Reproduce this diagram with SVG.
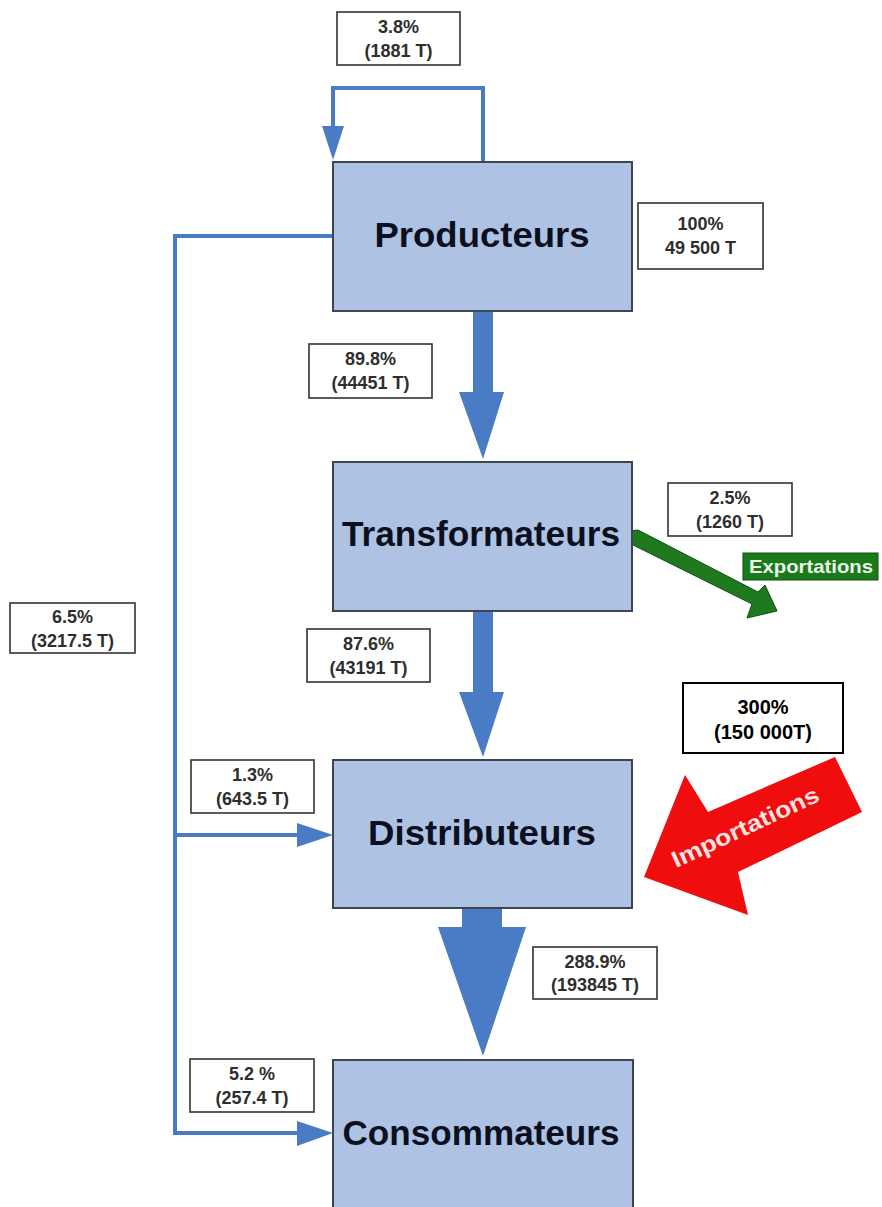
<svg xmlns="http://www.w3.org/2000/svg" width="882" height="1207" viewBox="0 0 882 1207">
<style>
.node{fill:#aec3e4;stroke:#3f4550;stroke-width:2}
.nt{font-family:"Liberation Sans",Arial,sans-serif;font-weight:bold;font-size:35px;fill:#0b0f1e;text-anchor:middle}
.lb{fill:#fff;stroke:#333;stroke-width:1.6}
.lt{font-family:"Liberation Sans",Arial,sans-serif;font-weight:bold;font-size:18px;fill:#2e2e2e;text-anchor:middle}
.ln{fill:none;stroke:#4a7cc6;stroke-width:4}
.ab{fill:#4a7cc6}
</style>
<rect width="882" height="1207" fill="#fff"/>
<g id="connectors">
  <polyline class="ln" points="483,162 483,88 333,88 333,128"/>
  <polygon class="ab" points="322,126 344,126 333,160"/>
  <polyline class="ln" points="333,236 175,236 175,1133 299,1133"/>
  <polygon class="ab" points="297,1121 333,1133 297,1146"/>
  <line class="ln" x1="175" y1="835" x2="299" y2="835"/>
  <polygon class="ab" points="297,823 333,835 297,847"/>
  <polygon class="ab" points="473,311 493,311 493,392 504,392 483,459 459,392 473,392"/>
  <polygon class="ab" points="473,611 493,611 493,692 504,692 483,757 459,692 473,692"/>
  <polygon class="ab" points="462,908 502,908 502,927 526,927 483,1056 438,927 462,927"/>
  <polygon fill="#1f7a1f" stroke="#105010" stroke-width="1" points="629,531 633,545 752,604 747,618 777,611 765,585 758,592 638,530"/>
  <polygon fill="#f00d0d" points="644,877 685,775 708,812 835,757 862,812 738,872 748,915"/>
</g>
<g id="label-loop"><rect class="lb" x="337" y="12" width="123" height="53"/><text class="lt" x="398.5" y="33">3.8%</text><text class="lt" x="398.5" y="57">(1881 T)</text></g>
<g id="label-100"><rect class="lb" x="638" y="203" width="125" height="66"/><text class="lt" x="700.5" y="230">100%</text><text class="lt" x="700.5" y="254">49 500 T</text></g>
<g id="label-898"><rect class="lb" x="309" y="344" width="123" height="54"/><text class="lt" x="370.5" y="365">89.8%</text><text class="lt" x="370.5" y="389">(44451 T)</text></g>
<g id="label-25"><rect class="lb" x="668" y="483" width="124" height="53"/><text class="lt" x="730" y="504">2.5%</text><text class="lt" x="730" y="528">(1260 T)</text></g>
<g id="label-exp"><rect x="743" y="553" width="135" height="27" fill="#1a7a1a" stroke="#0e4d0e" stroke-width="1"/><text x="811" y="573" font-family="Liberation Sans,Arial,sans-serif" font-weight="bold" font-size="19" fill="#e8f5e8" text-anchor="middle" textLength="124" lengthAdjust="spacingAndGlyphs">Exportations</text></g>
<g id="label-65"><rect class="lb" x="10" y="603" width="125" height="50"/><text class="lt" x="72.5" y="623">6.5%</text><text class="lt" x="72.5" y="647">(3217.5 T)</text></g>
<g id="label-876"><rect class="lb" x="307" y="629" width="123" height="53"/><text class="lt" x="368.5" y="650">87.6%</text><text class="lt" x="368.5" y="674">(43191 T)</text></g>
<g id="label-300"><rect x="683" y="683" width="160" height="70" fill="#fff" stroke="#000" stroke-width="2"/><text x="763" y="714" font-family="Liberation Sans,Arial,sans-serif" font-weight="bold" font-size="20" fill="#000" text-anchor="middle">300%</text><text x="763" y="739" font-family="Liberation Sans,Arial,sans-serif" font-weight="bold" font-size="20" fill="#000" text-anchor="middle">(150 000T)</text></g>
<g id="label-13"><rect class="lb" x="191" y="760" width="123" height="53"/><text class="lt" x="252.5" y="781">1.3%</text><text class="lt" x="252.5" y="805">(643.5 T)</text></g>
<g id="label-imp"><text x="0" y="0" transform="translate(676,868) rotate(-25)" font-family="Liberation Sans,Arial,sans-serif" font-weight="bold" font-size="23" fill="#fde2e2" textLength="160" lengthAdjust="spacingAndGlyphs">Importations</text></g>
<g id="label-2889"><rect class="lb" x="533" y="947" width="124" height="52"/><text class="lt" x="595" y="968">288.9%</text><text class="lt" x="595" y="991">(193845 T)</text></g>
<g id="label-52"><rect class="lb" x="190" y="1059" width="124" height="53"/><text class="lt" x="252" y="1080">5.2 %</text><text class="lt" x="252" y="1104">(257.4 T)</text></g>
<g id="node-producteurs"><rect class="node" x="333" y="162" width="299" height="149"/><text class="nt" x="482" y="247" textLength="215" lengthAdjust="spacingAndGlyphs">Producteurs</text></g>
<g id="node-transformateurs"><rect class="node" x="333" y="462" width="299" height="149"/><text class="nt" x="481" y="546" textLength="278" lengthAdjust="spacingAndGlyphs">Transformateurs</text></g>
<g id="node-distributeurs"><rect class="node" x="333" y="760" width="299" height="148"/><text class="nt" x="482" y="845" textLength="228" lengthAdjust="spacingAndGlyphs">Distributeurs</text></g>
<g id="node-consommateurs"><rect class="node" x="333" y="1060" width="300" height="160"/><text class="nt" x="481" y="1145" textLength="277" lengthAdjust="spacingAndGlyphs">Consommateurs</text></g>
</svg>
